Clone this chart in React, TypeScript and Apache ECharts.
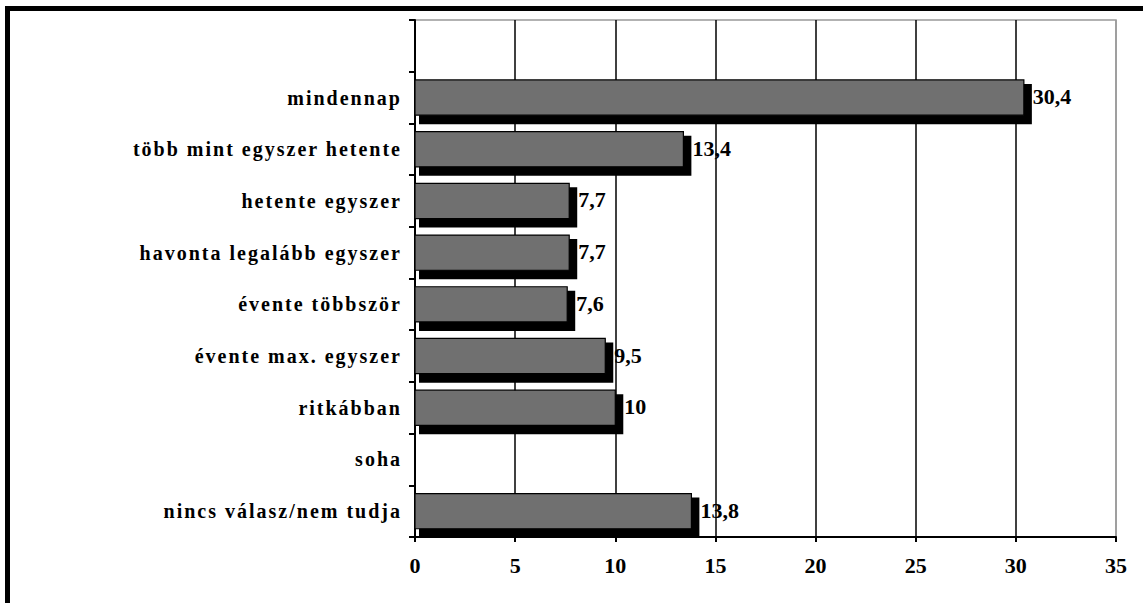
import React, { useEffect, useRef } from 'react';
import * as echarts from 'echarts';

const categories: string[] = [
  'mindennap',
  'több mint egyszer hetente',
  'hetente egyszer',
  'havonta legalább egyszer',
  'évente többször',
  'évente max. egyszer',
  'ritkábban',
  'soha',
  'nincs válasz/nem tudja',
];
const values: (number | null)[] = [30.4, 13.4, 7.7, 7.7, 7.6, 9.5, 10, null, 13.8];
const xMin = 0;
const xMax = 35;
const xStep = 5;

const axisCategories = ['', ...categories];
const fmt = (v: number) => String(v).replace('.', ',');

export default function App() {
  const ref = useRef<HTMLDivElement>(null);
  useEffect(() => {
    if (!ref.current) return;
    const chart = echarts.init(ref.current, undefined, { renderer: 'svg' });
    const data = categories
      .map((c, i) => [values[i], c])
      .filter((d) => d[0] !== null);
    const serif = 'Times New Roman, serif';
    const gridColors = ['#000', '#000', '#000', '#000', '#000', '#000', '#000', '#999'];
    chart.setOption({
      animation: false,
      backgroundColor: '#fff',
      textStyle: { fontFamily: serif },
      grid: {
        left: 415,
        right: 27,
        top: 20,
        bottom: 66,
        show: true,
        borderColor: '#999',
        borderWidth: 1.5,
        backgroundColor: 'transparent',
      },
      xAxis: {
        type: 'value',
        min: xMin,
        max: xMax,
        interval: xStep,
        axisLine: { show: true, lineStyle: { color: '#000', width: 2 } },
        axisTick: { show: true, length: 5, lineStyle: { color: '#000', width: 2 } },
        axisLabel: {
          color: '#000',
          fontFamily: serif,
          fontWeight: 'bold',
          fontSize: 22,
          margin: 17,
        },
        splitLine: { show: true, lineStyle: { color: gridColors, width: 1.5 } },
      },
      yAxis: {
        type: 'category',
        data: axisCategories,
        inverse: true,
        axisLine: { show: true, lineStyle: { color: '#000', width: 2 } },
        axisTick: { show: true, length: 6, lineStyle: { color: '#000', width: 2 } },
        axisLabel: {
          color: '#000',
          fontFamily: serif,
          fontWeight: 'bold',
          fontSize: 20,
          margin: 13,
        },
        splitLine: { show: false },
      },
      graphic: [
        {
          type: 'rect',
          shape: { x: 7.5, y: 8.5, width: 1400, height: 900 },
          style: { fill: 'none', stroke: '#000', lineWidth: 5 },
          silent: true,
          z: 100,
        },
      ],
      series: [
        {
          type: 'custom',
          coordinateSystem: 'cartesian2d',
          data,
          encode: { x: 0, y: 1 },
          renderItem: (params: any, api: any) => {
            const v = api.value(0);
            const cat = api.value(1);
            const end = api.coord([v, cat]);
            const start = api.coord([0, cat]);
            const band = api.size([0, 1])[1];
            const h = band * 0.68;
            const x0 = start[0];
            const x1 = end[0];
            const y0 = end[1] - h / 2;
            return {
              type: 'group',
              children: [
                {
                  type: 'rect',
                  shape: { x: x0 + 4, y: y0 + 4, width: x1 - x0 + 4, height: h + 5 },
                  style: { fill: '#000' },
                },
                {
                  type: 'rect',
                  shape: { x: x0, y: y0, width: x1 - x0, height: h },
                  style: { fill: '#707070', stroke: '#000', lineWidth: 1.2 },
                },
                {
                  type: 'text',
                  x: x1 + 9,
                  y: end[1] - 1,
                  style: {
                    text: fmt(v),
                    fill: '#000',
                    fontFamily: serif,
                    fontWeight: 'bold',
                    fontSize: 22,
                    align: 'left',
                    verticalAlign: 'middle',
                  },
                },
              ],
            };
          },
        },
      ],
    });
    const applySpacing = () => {
      if (!ref.current) return;
      ref.current.querySelectorAll('text').forEach((t) => {
        const s = (t.textContent || '').trim();
        t.style.fontFamily = '"Liberation Serif", "Times New Roman", serif';
        if (categories.includes(s)) {
          t.setAttribute('letter-spacing', '2');
        }
      });
    };
    chart.on('finished', applySpacing);
    applySpacing();
    return () => {
      chart.dispose();
    };
  }, []);
  return (
    <div
      ref={ref}
      style={{ position: 'fixed', left: 0, top: 0, width: 1143, height: 603, background: '#fff' }}
    />
  );
}
